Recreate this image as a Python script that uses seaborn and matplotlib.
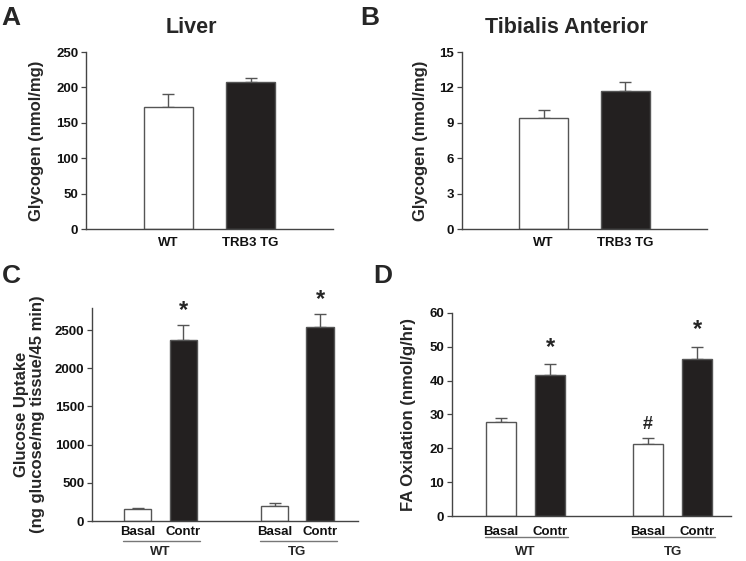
import matplotlib
matplotlib.use('Agg')
import matplotlib.pyplot as plt
import matplotlib.transforms as mtransforms
import seaborn as sns
import pandas as pd

# Panel A / B: glycogen content
glyco_groups = ['WT', 'TRB3 TG']
liver_mean = [173, 208]
liver_sem = [18, 5]
ta_mean = [9.4, 11.7]
ta_sem = [0.7, 0.8]

# Panel C / D: contraction experiments
genotypes = ['WT', 'WT', 'TG', 'TG']
conditions = ['Basal', 'Contr', 'Basal', 'Contr']
uptake_mean = [160, 2370, 200, 2540]
uptake_sem = [12, 200, 30, 170]
fa_mean = [27.8, 41.6, 21.3, 46.3]
fa_sem = [1.3, 3.3, 1.7, 3.7]
uptake_marks = ['', '*', '', '*']
fa_marks = ['', '*', '#', '*']

WHITE = 'white'
BLACK = '#231f20'
EDGE = '#555555'

sns.set_style('ticks')
plt.rcParams['font.family'] = ['Liberation Sans', 'DejaVu Sans']
plt.rcParams['font.weight'] = 'bold'
plt.rcParams['axes.labelweight'] = 'bold'
plt.rcParams['axes.edgecolor'] = '#444444'
plt.rcParams['xtick.color'] = '#444444'
plt.rcParams['ytick.color'] = '#444444'
plt.rcParams['xtick.labelcolor'] = '#111111'
plt.rcParams['ytick.labelcolor'] = '#111111'

TICK_FS = 9.5
LABEL_FS = 12

fig = plt.figure(figsize=(7.46, 5.61), dpi=100)
axA = fig.add_axes([0.1153, 0.5918, 0.331, 0.3155])
axB = fig.add_axes([0.6193, 0.5918, 0.3284, 0.3155])
axC = fig.add_axes([0.1233, 0.0713, 0.3566, 0.3797])
axD = fig.add_axes([0.6059, 0.0802, 0.374, 0.3619])


def style_axis(ax, ylim, yticks, pad):
    sns.despine(ax=ax)
    ax.set_ylim(*ylim)
    ax.set_yticks(yticks)
    ax.tick_params(axis='y', length=3.5, width=0.9, labelsize=TICK_FS, pad=2)
    ax.tick_params(axis='x', length=0, labelsize=TICK_FS, pad=pad)
    for lab in ax.get_xticklabels() + ax.get_yticklabels():
        lab.set_fontweight('bold')
    for s in ['left', 'bottom']:
        ax.spines[s].set_linewidth(1.0)


def glyco_panel(ax, means, sems, ylim, yticks, ylabel, labx):
    df = pd.DataFrame({'group': glyco_groups, 'mean': means})
    sns.barplot(data=df, x='group', y='mean', hue='group', order=glyco_groups,
                palette={'WT': WHITE, 'TRB3 TG': BLACK}, width=0.6,
                edgecolor=EDGE, linewidth=1.0, legend=False, ax=ax, zorder=2)
    ax.errorbar(range(len(means)), means, yerr=[[0] * len(sems), sems], fmt='none',
                ecolor=EDGE, elinewidth=1.0, capsize=4.5, capthick=1.0, zorder=1)
    ax.set_xlim(-1, 2)
    style_axis(ax, ylim, yticks, pad=6)
    ax.set_xlabel('')
    ax.set_ylabel(ylabel, fontsize=LABEL_FS, fontweight='bold')
    ax.yaxis.set_label_coords(labx, 0.5)


def contraction_panel(ax, means, sems, marks, ylim, yticks, ylabel, labx,
                      xright, pad, line_y, group_y, mark_off):
    keys = [g + ' ' + c for g, c in zip(genotypes, conditions)]
    order = keys[:2] + [' '] + keys[2:]
    df = pd.DataFrame({'key': keys, 'cond': conditions, 'mean': means})
    sns.barplot(data=df, x='key', y='mean', hue='cond', order=order, dodge=False,
                palette={'Basal': WHITE, 'Contr': BLACK}, width=0.6,
                edgecolor=EDGE, linewidth=1.0, legend=False, ax=ax, zorder=2)
    xpos = [order.index(k) for k in keys]
    ax.errorbar(xpos, means, yerr=[[0] * len(sems), sems], fmt='none',
                ecolor=EDGE, elinewidth=1.0, capsize=4.5, capthick=1.0, zorder=1)
    for x, m, s, mk in zip(xpos, means, sems, marks):
        if mk:
            ax.annotate(mk, (x, m + s), xytext=(0, mark_off), textcoords='offset points',
                        ha='center', va='bottom', fontsize=17 if mk == '*' else 13,
                        fontweight='bold')
    ax.set_xlim(-1, xright)
    ax.set_xticks(xpos)
    ax.set_xticklabels(conditions)
    style_axis(ax, ylim, yticks, pad=pad)
    ax.set_xlabel('')
    ax.set_ylabel(ylabel, fontsize=LABEL_FS, fontweight='bold', linespacing=1.05)
    ax.yaxis.set_label_coords(labx, 0.5)
    trans = mtransforms.blended_transform_factory(ax.transData, ax.transAxes)
    for g in ['WT', 'TG']:
        gx = [x for x, gg in zip(xpos, genotypes) if gg == g]
        ax.plot([min(gx) - 0.32, max(gx) + 0.36], [line_y, line_y], color='#777777',
                lw=1.0, transform=trans, clip_on=False)
        ax.text((min(gx) + max(gx)) / 2, group_y, g, transform=trans, ha='center',
                va='center', fontsize=TICK_FS, fontweight='bold')


glyco_panel(axA, liver_mean, liver_sem, (0, 250), range(0, 251, 50),
            'Glycogen (nmol/mg)', -0.17)
glyco_panel(axB, ta_mean, ta_sem, (0, 15), range(0, 16, 3),
            'Glycogen (nmol/mg)', -0.139)
contraction_panel(axC, uptake_mean, uptake_sem, uptake_marks, (0, 2790),
                  range(0, 2501, 500),
                  'Glucose Uptake\n(ng glucose/mg tissue/45 min)', -0.177,
                  4.83, 3.5, -0.094, -0.146, 2)
contraction_panel(axD, fa_mean, fa_sem, fa_marks, (0, 60), range(0, 61, 10),
                  'FA Oxidation (nmol/g/hr)', -0.129, 4.69, 7, -0.103, -0.177, 4)

fig.text(191 / 746, 1 - 33 / 561, 'Liver', ha='center', va='baseline',
         fontsize=15.5, fontweight='bold')
fig.text(566 / 746, 1 - 33 / 561, 'Tibialis Anterior', ha='center', va='baseline',
         fontsize=15.5, fontweight='bold')
for lab, x, y in [('A', 1, 25), ('B', 360, 25), ('C', 2, 283), ('D', 373, 283)]:
    fig.text(x / 746, 1 - y / 561, lab, ha='left', va='baseline',
             fontsize=19, fontweight='bold')

fig.savefig('out.png', dpi=100)
